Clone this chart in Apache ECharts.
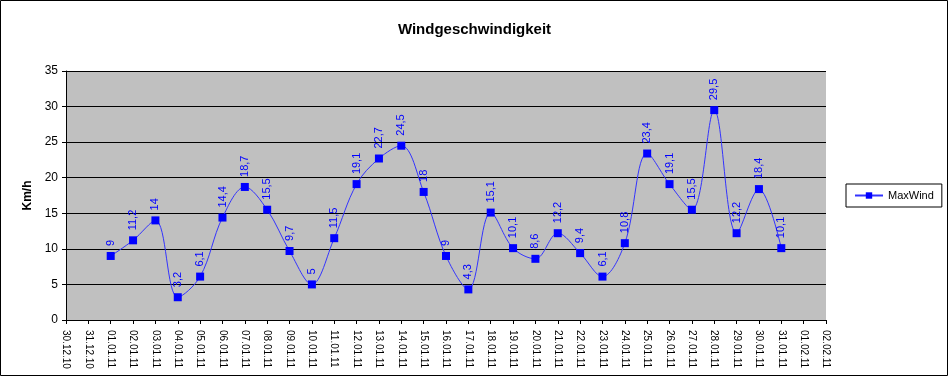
<!DOCTYPE html>
<html>
<head>
<meta charset="utf-8">
<script src="https://cdn.jsdelivr.net/npm/echarts@6/dist/echarts.min.js"></script>
<style>
  html, body { margin: 0; padding: 0; background: #fff; }
  #chart { width: 949px; height: 378px; }
</style>
</head>
<body>
<div id="chart"></div>
<script>
const dates = [
  '30.12.10', '31.12.10',
  '01.01.11', '02.01.11', '03.01.11', '04.01.11', '05.01.11', '06.01.11', '07.01.11',
  '08.01.11', '09.01.11', '10.01.11', '11.01.11', '12.01.11', '13.01.11', '14.01.11',
  '15.01.11', '16.01.11', '17.01.11', '18.01.11', '19.01.11', '20.01.11', '21.01.11',
  '22.01.11', '23.01.11', '24.01.11', '25.01.11', '26.01.11', '27.01.11', '28.01.11',
  '29.01.11', '30.01.11', '31.01.11',
  '01.02.11', '02.02.11'
]
const maxWind = [
  null, null,
  9, 11.2, 14, 3.2, 6.1, 14.4, 18.7,
  15.5, 9.7, 5, 11.5, 19.1, 22.7, 24.5,
  18, 9, 4.3, 15.1, 10.1, 8.6, 12.2,
  9.4, 6.1, 10.8, 23.4, 19.1, 15.5, 29.5,
  12.2, 18.4, 10.1,
  null, null
]
const yTicks = [0, 5, 10, 15, 20, 25, 30, 35]

const chart = echarts.init(document.getElementById('chart'), null, { renderer: 'canvas' })

const FONT = 'Liberation Sans, Arial, sans-serif'

chart.setOption({
  animation: false,
  backgroundColor: '#fff',
  title: {
    text: 'Windgeschwindigkeit',
    left: 'center',
    top: 17,
    textStyle: { fontFamily: FONT, fontSize: 15, fontWeight: 'bold', color: '#000' },
  },
  graphic: [{
    type: 'rect',
    shape: { x: 0.5, y: 0.5, width: 947, height: 375 },
    style: { fill: 'none', stroke: '#000', lineWidth: 1 },
    silent: true,
  }],
  legend: {
    data: ['MaxWind'],
    orient: 'vertical',
    left: 846,
    top: 184,
    backgroundColor: '#fff',
    borderColor: '#000',
    borderWidth: 1,
    borderRadius: 0,
    padding: [6, 8, 6, 8],
    itemWidth: 28,
    itemHeight: 8,
    textStyle: { fontFamily: FONT, fontSize: 11, color: '#000' },
  },
  grid: { left: 66, right: 123, top: 71, bottom: 58, show: true, backgroundColor: '#c0c0c0', borderWidth: 0 },
  xAxis: {
    type: 'category',
    data: dates,
    boundaryGap: false,
    axisLine: { lineStyle: { color: '#000', width: 1 } },
    axisTick: { show: true, alignWithLabel: true, length: 4, lineStyle: { color: '#000' } },
    axisLabel: {
      interval: 0,
      rotate: -90,
      margin: 10,
      fontFamily: FONT,
      fontSize: 10,
      color: '#000',
    },
    splitLine: { show: false },
  },
  yAxis: {
    type: 'value',
    min: yTicks[0],
    max: yTicks[yTicks.length - 1],
    interval: 5,
    name: 'Km/h',
    nameLocation: 'middle',
    nameGap: 32,
    nameTextStyle: { fontFamily: FONT, fontSize: 12, fontWeight: 'bold', color: '#000' },
    axisLine: { show: true, lineStyle: { color: '#000', width: 1 } },
    axisTick: { show: true, length: 4, lineStyle: { color: '#000' } },
    axisLabel: { fontFamily: FONT, fontSize: 12, color: '#000', margin: 8 },
    splitLine: { show: true, lineStyle: { color: '#000', width: 1 } },
  },
  series: [{
    type: 'line',
    name: 'MaxWind',
    data: maxWind,
    smooth: 0.35,
    connectNulls: false,
    symbol: 'rect',
    symbolSize: 8,
    itemStyle: { color: '#0000ff' },
    lineStyle: { color: '#3333ff', width: 1 },
    label: {
      show: true,
      position: 'top',
      rotate: 90,
      align: 'left',
      verticalAlign: 'middle',
      distance: 6,
      fontFamily: FONT,
      fontSize: 11,
      color: '#0000ff',
      formatter: (p) => String(p.value).replace('.', ','),
    },
  }],
})
</script>
</body>
</html>
